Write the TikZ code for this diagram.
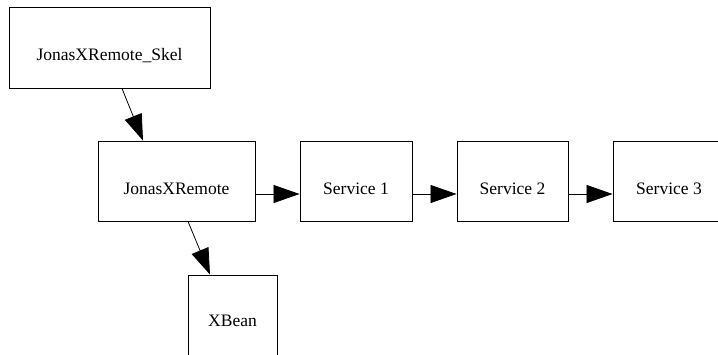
\documentclass[tikz,border=0pt]{standalone}
\usepackage{fontspec}
\setmainfont{Liberation Serif}
\usetikzlibrary{arrows.meta}

\begin{document}
\begin{tikzpicture}[x=1pt,y=-1pt,
        box/.style = {draw, rectangle, line width=0.9pt, inner sep=0pt,
            minimum height=80pt, text height=26pt, text depth=0pt,
            font=\rmfamily\fontsize{17.5}{20}\selectfont},
        link/.style = {line width=0.8pt, -{Triangle[length=26pt,width=18pt]}}]

        \useasboundingbox (0,0) rectangle (718,354);
        \clip (0,0) rectangle (718,354);

        % Skeleton
        \node[box,minimum width=201pt,minimum height=81pt] (skel) at (109.5,47.5) {JonasXRemote\_Skel};

        % Remote object
        \node[box,minimum width=157pt] (remote) at (176.5,181) {JonasXRemote};

        % Services
        \node[box,minimum width=112pt] (svc1) at (356,181) {Service 1};
        \node[box,minimum width=111pt] (svc2) at (512.5,181) {Service 2};
        \node[box,minimum width=112pt] (svc3) at (669,181) {Service 3};

        % Bean
        \node[box,minimum width=89pt,text height=22pt] (bean) at (232.5,315) {XBean};

        % Links
        \draw[link] ([xshift=12.5pt]skel.south) -- ([xshift=-33.5pt]remote.north);
        \draw[link] ([xshift=11.5pt]remote.south) -- ([xshift=-22.5pt]bean.north);
        \draw[link] ([yshift=-13pt]remote.east) -- ([yshift=-13pt]svc1.west);
        \draw[link] ([yshift=-13pt]svc1.east) -- ([yshift=-13pt]svc2.west);
        \draw[link] ([yshift=-13pt]svc2.east) -- ([yshift=-13pt]svc3.west);

    \end{tikzpicture}
\end{document}
